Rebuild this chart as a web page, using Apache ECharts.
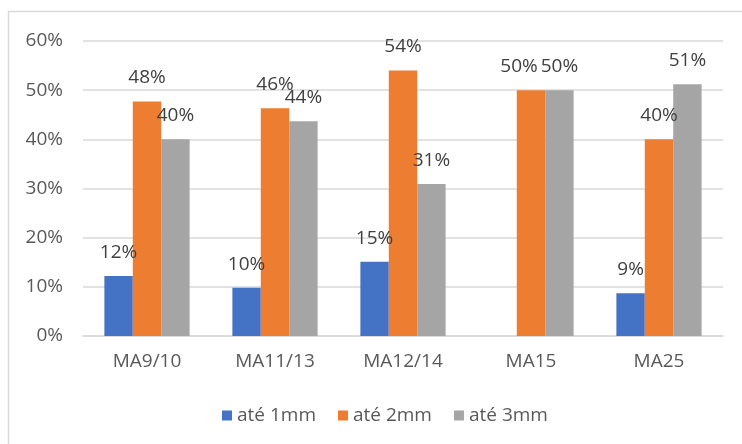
<!DOCTYPE html>
<html>
<head>
<meta charset="utf-8">
<script src="https://cdn.jsdelivr.net/npm/echarts@6/dist/echarts.min.js"></script>
<style>
  html, body { margin: 0; padding: 0; background: #fff; }
  #chart { width: 742px; height: 444px; }
</style>
</head>
<body>
<div id="chart"></div>
<script>
// Categories and percentages per tolerance band
const categories = ['MA9/10', 'MA11/13', 'MA12/14', 'MA15', 'MA25'];
const seriesNames = ['até 1mm', 'até 2mm', 'até 3mm'];
const ate1mm = [12.2, 9.8, 15.1, null, 8.7];
const ate2mm = [47.7, 46.3, 54.0, 50.0, 40.0];
const ate3mm = [40.0, 43.7, 30.9, 50.0, 51.2];
const yTicks = [0, 10, 20, 30, 40, 50, 60];

const colors = ['#4472C4', '#ED7D31', '#A5A5A5'];
const FONT = 'Open Sans';
const FS = 19;

// Horizontal nudges for labels that would otherwise collide with a neighbour
const labelNudge = { 'até 2mm|MA15': [-12, 0] };

function barSeries(name, values, color) {
  return {
    name: name,
    type: 'bar',
    data: values.map((v, i) => {
      const nudge = labelNudge[name + '|' + categories[i]];
      return nudge ? { value: v, label: { offset: nudge } } : v;
    }),
    barWidth: '22.2%',
    barGap: '0%',
    itemStyle: { color: color },
    label: {
      show: true,
      position: 'top',
      distance: 14,
      color: '#404040',
      fontFamily: FONT,
      fontSize: FS,
      formatter: p => (p.value == null ? '' : Math.round(p.value) + '%')
    }
  };
}

const chart = echarts.init(document.getElementById('chart'), null, { renderer: 'canvas' });
chart.setOption({
  animation: false,
  backgroundColor: '#ffffff',
  textStyle: { fontFamily: FONT },
  graphic: [{
    type: 'rect',
    shape: { x: 8.5, y: 11.5, width: 760, height: 460 },
    style: { fill: 'none', stroke: '#d9d9d9', lineWidth: 1.5 },
    silent: true
  }],
  grid: { left: 83, right: 19, top: 41, bottom: 108, containLabel: false },
  legend: {
    data: seriesNames,
    left: 217,
    top: 401,
    icon: 'rect',
    itemWidth: 10,
    itemHeight: 10,
    itemGap: 22,
    textStyle: { color: '#595959', fontFamily: FONT, fontSize: FS }
  },
  xAxis: {
    type: 'category',
    data: categories,
    axisLine: { lineStyle: { color: '#d9d9d9', width: 1.5 } },
    axisTick: { show: false },
    axisLabel: { color: '#595959', fontFamily: FONT, fontSize: FS, margin: 16 }
  },
  yAxis: {
    type: 'value',
    min: yTicks[0],
    max: yTicks[yTicks.length - 1],
    interval: yTicks[1] - yTicks[0],
    axisLine: { show: false },
    axisTick: { show: false },
    splitLine: { lineStyle: { color: '#d9d9d9', width: 1.5 } },
    axisLabel: { color: '#595959', fontFamily: FONT, fontSize: FS, margin: 20, formatter: '{value}%' }
  },
  series: [
    barSeries(seriesNames[0], ate1mm, colors[0]),
    barSeries(seriesNames[1], ate2mm, colors[1]),
    barSeries(seriesNames[2], ate3mm, colors[2])
  ]
});
</script>
</body>
</html>
